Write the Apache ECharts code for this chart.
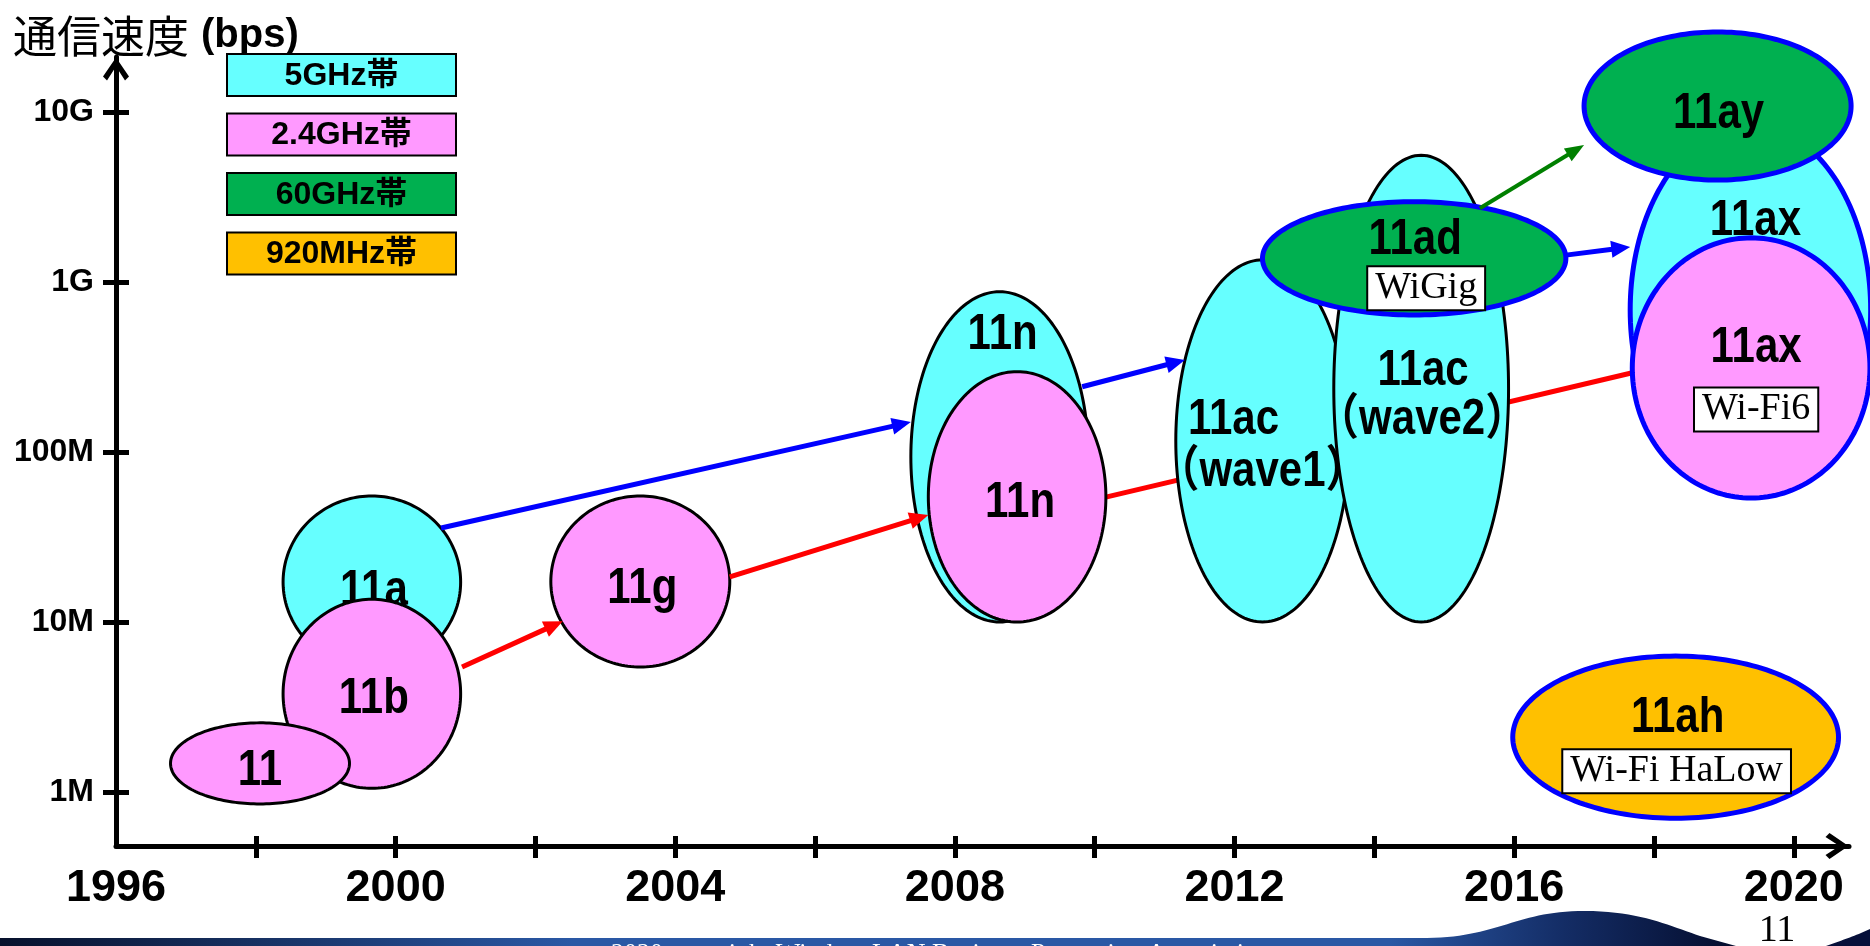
<!DOCTYPE html>
<html><head><meta charset="utf-8">
<script src="https://cdn.jsdelivr.net/npm/echarts@6/dist/echarts.min.js"></script>
<style>html,body{margin:0;padding:0;background:#fff}#c{width:1870px;height:946px}</style>
</head><body><div id="c"></div>
<script>
// ================= DATA =================
// IEEE 802.11 standards: period (years) and speed range (Mbps)
const standards  = ['11a','11b','11','11g','11n','11n','11ac','11ac','11ad','11ax','11ay','11ax','11ah'];
const bands      = ['5GHz','2.4GHz','2.4GHz','2.4GHz','5GHz','2.4GHz','5GHz','5GHz','60GHz','5GHz','60GHz','2.4GHz','920MHz'];
const waveNotes  = ['','','','','','','（wave1）','（wave2）','','','','',''];
const brandNames = ['','','','','','','','','WiGig','','','Wi-Fi6','Wi-Fi HaLow'];
const yearFrom   = [1998.39,1998.39,1996.78,2002.22,2007.37,2007.62,2011.16,2013.42,2012.40,2017.66,2017.00,2017.69,2015.98];
const yearTo     = [2000.93,2000.93,1999.34,2004.78,2009.91,2010.16,2013.64,2015.92,2016.74,2021.10,2020.82,2021.09,2020.64];
const speedLow   = [5.36,1.05,0.85,5.43,10,10,10,10,640,55.8,3980,53.6,0.70];      // Mbps
const speedHigh  = [55.1,13.6,2.55,55.1,877,297,1350,5570,2970,8400,29600,1820,6.30]; // Mbps

// evolution arrows (year, Mbps) -> (year, Mbps)
const arrowBand      = ['2.4GHz','2.4GHz','2.4GHz','5GHz','5GHz','5GHz','60GHz'];
const arrowYearFrom  = [2000.95,2004.78,2010.16,2000.65,2009.82,2016.74,2015.51];
const arrowSpeedFrom = [5.43,18.4,54.3,35.7,242,1440,2720];
const arrowYearTo    = [2002.39,2007.62,2018.52,2007.37,2011.29,2017.66,2017.00];
const arrowSpeedTo   = [10.1,42.6,352,150,348,1610,6400];

// legend / bands
const legendBands = ['5GHz','2.4GHz','60GHz','920MHz'];
const legendNames = ['5GHz帯','2.4GHz帯','60GHz帯','920MHz帯'];

// axes
const yearLabels   = [1996,2000,2004,2008,2012,2016,2020];
const yearTicks    = [1998,2000,2002,2004,2006,2008,2010,2012,2014,2016,2018,2020];
const speedTicks   = [1,10,100,1000,10000]; // Mbps
const speedLabels  = ['1M','10M','100M','1G','10G'];

// ================= STYLE / LAYOUT =================
const bandColor = {'5GHz':'#66FFFF','2.4GHz':'#FF99FF','60GHz':'#00B050','920MHz':'#FFC000'};
const arrowColor = {'2.4GHz':'#FF0000','5GHz':'#0000FF','60GHz':'#008000'};
const arrowLayer = ['front','front','back','front','front','front','front'];
const outline = standards.map((s,i)=> i>=8 ? {color:'#0000FF',width:5} : {color:'#000',width:3});
const labelLayout = [
  {main:[2,5]},{main:[2,2]},{main:[0,4]},{main:[2,4]},
  {main:[3,-125]},{main:[3,3]},
  {main:[-29,-24],note:[0,28]},{main:[2,-21],note:[1,28]},
  {main:[1,-22],box:[12,25]},{main:[5,-93]},{main:[1,4]},
  {main:[5,-23],box:[5,36.5]},{main:[2,-22.5],box:[1,29]}
];
const TXT_DY = 4, BOX_DY = 5;
const BOLD = '"Liberation Sans","Noto Sans CJK JP",sans-serif';
const SERIF = '"Liberation Serif","DejaVu Serif",serif';

const L10 = v => Math.log10(v*1e6);

const ellipseData = standards.map((s,i)=>[yearFrom[i],yearTo[i],L10(speedLow[i]),L10(speedHigh[i])]);
const arrowData = arrowBand.map((b,i)=>[arrowYearFrom[i],L10(arrowSpeedFrom[i]),arrowYearTo[i],L10(arrowSpeedTo[i]),i]);

function ellipsePts(cx,cy,rx,ry){
  const pts=[];
  for(let t=0;t<180;t++){const a=t/180*Math.PI*2; pts.push([cx+rx*Math.cos(a),cy+ry*Math.sin(a)]);}
  return pts;
}
function boldText(t,x,y){
  return {type:'text',x:x,y:y+TXT_DY,scaleY:1.17,
    style:{text:t,font:'bold 42px '+BOLD,fill:'#000',align:'center',verticalAlign:'middle'}};
}
function boxText(t,x,y){
  return {type:'text',x:x,y:y+BOX_DY,
    style:{text:t,font:'38px '+SERIF,fill:'#000',align:'center',verticalAlign:'middle',
      backgroundColor:'#fff',borderColor:'#000',borderWidth:2,padding:[3,7,1,7]}};
}
function renderEllipse(params,api){
  const i = params.dataIndex;
  const a = api.coord([api.value(0),api.value(2)]);
  const b = api.coord([api.value(1),api.value(3)]);
  const cx=(a[0]+b[0])/2, cy=(a[1]+b[1])/2, rx=Math.abs(b[0]-a[0])/2, ry=Math.abs(a[1]-b[1])/2;
  const lay = labelLayout[i];
  const ch = [{type:'polygon',shape:{points:ellipsePts(cx,cy,rx,ry)},
    style:{fill:bandColor[bands[i]],stroke:outline[i].color,lineWidth:outline[i].width}}];
  ch.push(boldText(standards[i],cx+lay.main[0],cy+lay.main[1]));
  if(waveNotes[i]) ch.push(boldText(waveNotes[i],cx+lay.note[0],cy+lay.note[1]));
  if(brandNames[i]) ch.push(boxText(brandNames[i],cx+lay.box[0],cy+lay.box[1]));
  return {type:'group',children:ch};
}
function renderArrow(params,api){
  const k = api.value(4);
  const p0 = api.coord([api.value(0),api.value(1)]);
  const p1 = api.coord([api.value(2),api.value(3)]);
  const col = arrowColor[arrowBand[k]];
  const green = arrowBand[k]==='60GHz';
  const dx=p1[0]-p0[0], dy=p1[1]-p0[1], len=Math.hypot(dx,dy), ux=dx/len, uy=dy/len;
  const Lh = 19, W = green?15:17;
  const bx=p1[0]-ux*Lh, by=p1[1]-uy*Lh;
  return {type:'group',children:[
    {type:'line',shape:{x1:p0[0],y1:p0[1],x2:bx+ux*3,y2:by+uy*3},style:{stroke:col,lineWidth:green?4:5}},
    {type:'polygon',shape:{points:[[p1[0],p1[1]],[bx-uy*W/2,by+ux*W/2],[bx+uy*W/2,by-ux*W/2]]},style:{fill:col}}
  ]};
}

const chevron = 'path://M13,0L26,19L22,23L13,9L4,23L0,19Z';
const xMin=1996, xMax=2020.79, yMin=5.682, yMax=10.324;

const legendGraphics = [];
legendNames.forEach((n,i)=>{
  const y0 = 54 + i*59.5;
  legendGraphics.push({type:'rect',shape:{x:227,y:y0,width:229,height:42},
    style:{fill:bandColor[legendBands[i]],stroke:'#000',lineWidth:2}});
  legendGraphics.push({type:'text',x:341.5,y:y0+22,
    style:{text:n,font:'bold 32px '+BOLD,fill:'#000',align:'center',verticalAlign:'middle'}});
});

function bez(p0,p1,p2,p3,n){
  const out=[];
  for(let i=0;i<=n;i++){const t=i/n,u=1-t;
    out.push([u*u*u*p0[0]+3*u*u*t*p1[0]+3*u*t*t*p2[0]+t*t*t*p3[0],
              u*u*u*p0[1]+3*u*u*t*p1[1]+3*u*t*t*p2[1]+t*t*t*p3[1]]);}
  return out;
}
const bandPts = [[0,946],[0,938]].concat(
  bez([1427,938],[1500,937],[1515,911],[1585,911],30),
  bez([1585,911],[1640,911],[1670,926],[1700,936],20),
  [[1736,946]]);
const rightPts = [[1870,946]].concat(bez([1826,946],[1840,941],[1855,936],[1870,929],20));

const footer = [
  {type:'polygon',shape:{points:bandPts},
    style:{fill:new echarts.graphic.LinearGradient(0,0,1,0,[
      {offset:0,color:'#07112c'},{offset:0.33,color:'#2a58a5'},{offset:0.8,color:'#2a58a5'},
      {offset:0.9,color:'#142d66'},{offset:1,color:'#040c2c'}])}},
  {type:'polygon',shape:{points:rightPts},style:{fill:'#06103a'}},
  {type:'text',x:611,y:941,style:{text:'2020 copyright Wireless LAN Business Promotion Association',
    font:'26px '+SERIF,fill:'#fff',align:'left',verticalAlign:'top'}},
  {type:'text',x:1777,y:931,style:{text:'11',font:'38px '+SERIF,fill:'#000',align:'center',verticalAlign:'middle'}}
];

const axisFontX = {color:'#000',fontFamily:BOLD,fontWeight:'bold',fontSize:45};
const option = {
  animation:false,
  backgroundColor:'#fff',
  title:{left:13,top:12,padding:0,text:'{a|通信速度}{b|(bps)}',
    textStyle:{rich:{
      a:{fontFamily:'"Noto Sans CJK JP"',fontSize:44,fontWeight:'normal',color:'#000',lineHeight:48},
      b:{fontFamily:BOLD,fontSize:40,fontWeight:'bold',color:'#000',lineHeight:48,padding:[0,0,0,12]}}}},
  grid:{left:116,right:21,top:57,bottom:100,containLabel:false,outerBoundsMode:'none'},
  xAxis:[
    {type:'value',min:xMin,max:xMax,position:'bottom',splitLine:{show:false},
     axisLine:{onZero:false,lineStyle:{color:'#000',width:5},symbol:['none',chevron],symbolSize:[26,24],symbolOffset:[0,-12]},
     axisTick:{customValues:yearTicks,length:12,lineStyle:{color:'#000',width:5}},
     axisLabel:Object.assign({customValues:yearLabels,margin:20,formatter:v=>String(v)},axisFontX)},
    {type:'value',min:xMin,max:xMax,position:'bottom',splitLine:{show:false},
     axisLine:{show:false,onZero:false},
     axisTick:{inside:true,customValues:yearTicks,length:10,lineStyle:{color:'#000',width:5}},
     axisLabel:{show:false}}
  ],
  yAxis:[
    {type:'value',min:yMin,max:yMax,position:'left',splitLine:{show:false},
     axisLine:{onZero:false,lineStyle:{color:'#000',width:5},symbol:['none',chevron],symbolSize:[26,24],symbolOffset:[0,-12]},
     axisTick:{customValues:speedTicks.map(L10),length:13,lineStyle:{color:'#000',width:5}},
     axisLabel:{customValues:speedTicks.map(L10),margin:22,color:'#000',fontFamily:BOLD,fontWeight:'bold',fontSize:32,
       formatter:v=>speedLabels[speedTicks.findIndex(t=>Math.abs(L10(t)-v)<1e-6)]}},
    {type:'value',min:yMin,max:yMax,position:'left',splitLine:{show:false},
     axisLine:{show:false,onZero:false},
     axisTick:{inside:true,customValues:speedTicks.map(L10),length:13,lineStyle:{color:'#000',width:5}},
     axisLabel:{show:false}}
  ],
  graphic:{elements:legendGraphics.concat(footer)},
  series:[
    {type:'custom',name:'arrowsBack',xAxisIndex:0,yAxisIndex:0,z:1,renderItem:renderArrow,clip:false,
     encode:{x:[0,2],y:[1,3]},data:arrowData.filter((d,i)=>arrowLayer[i]==='back')},
    {type:'custom',name:'standards',xAxisIndex:0,yAxisIndex:0,z:2,renderItem:renderEllipse,clip:false,
     encode:{x:[0,1],y:[2,3]},data:ellipseData},
    {type:'custom',name:'arrowsFront',xAxisIndex:0,yAxisIndex:0,z:3,renderItem:renderArrow,clip:false,
     encode:{x:[0,2],y:[1,3]},data:arrowData.filter((d,i)=>arrowLayer[i]==='front')}
  ]
};
const chart = echarts.init(document.getElementById('c'));
chart.setOption(option);
</script></body></html>
